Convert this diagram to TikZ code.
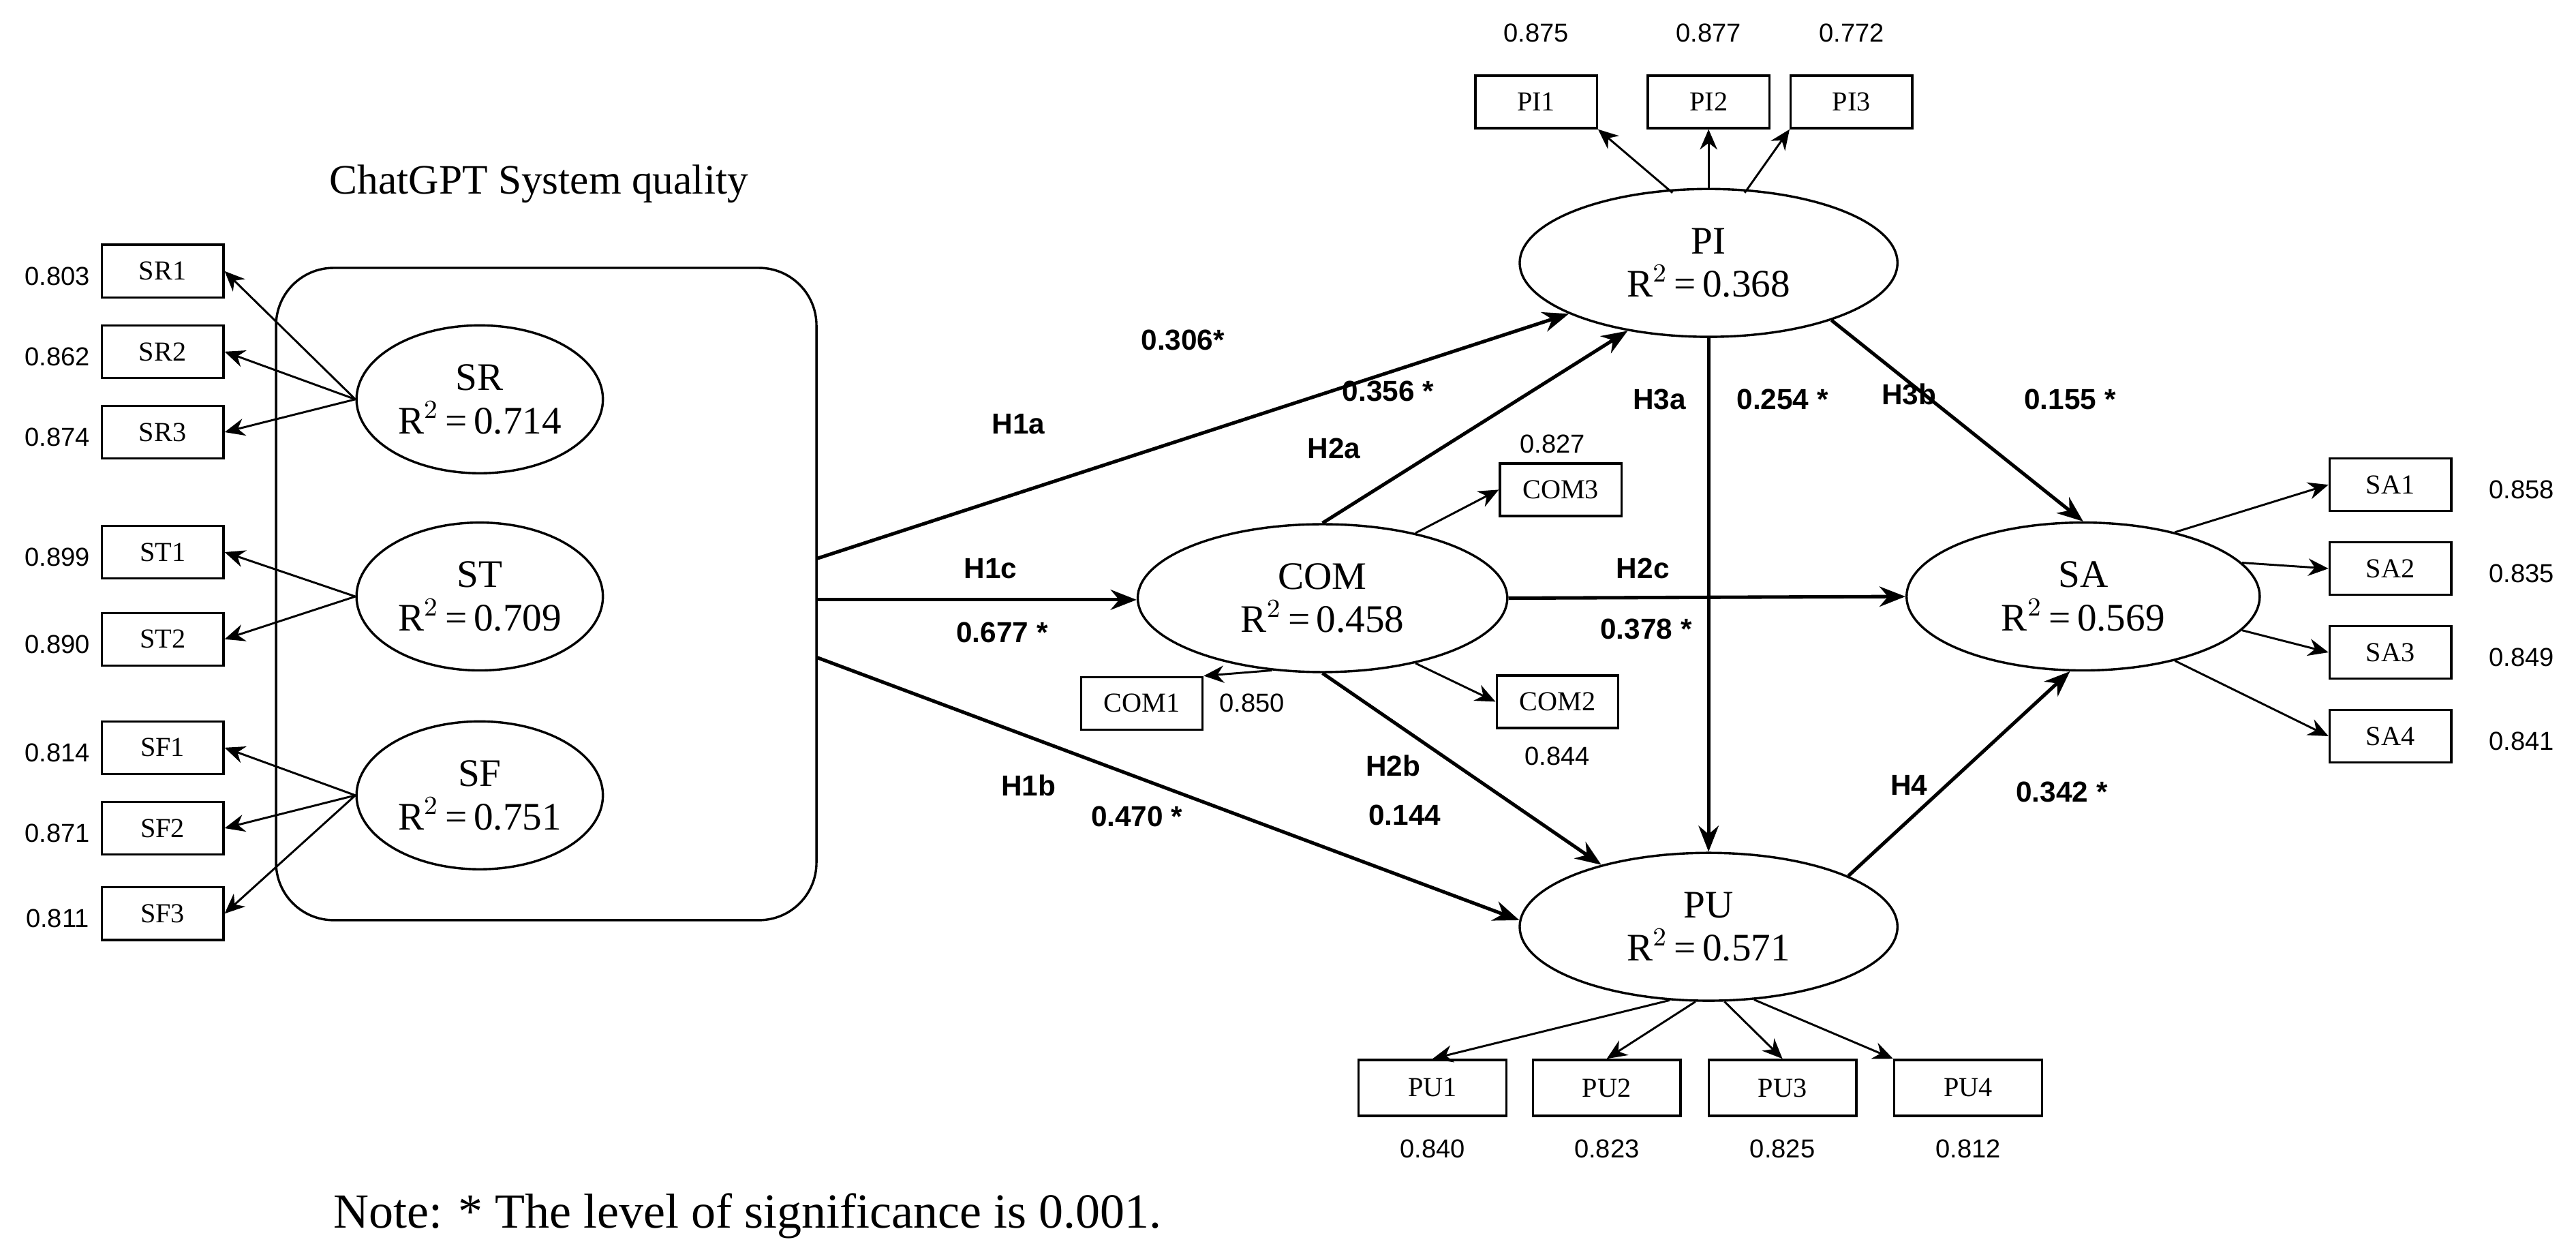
\documentclass[tikz,border=0pt]{standalone}
\usepackage{fontspec}
\setmainfont{Liberation Serif}
\newfontfamily\sansf{Liberation Sans}
\usetikzlibrary{shapes.geometric,arrows.meta}
\begin{document}
\begin{tikzpicture}[x=0.02cm,y=-0.02cm,
 lv/.style={draw,ellipse,line width=0.8pt,minimum width=224\pgflinewidth,inner sep=0pt,font=\fontsize{13.5}{15}\selectfont,align=center},
 ind/.style={draw,rectangle,line width=0.8pt,minimum width=1.48cm,minimum height=0.64cm,inner sep=1pt,font=\fontsize{9.5}{11}\selectfont},
 ld/.style={font=\sansf\fontsize{9}{10}\selectfont},
 hl/.style={font=\sansf\bfseries\fontsize{10}{12}\selectfont},
 ar/.style={-{Stealth[length=7pt,width=6pt]},line width=0.7pt},
 pa/.style={-{Stealth[length=9pt,width=7pt]},line width=1.2pt}]
\useasboundingbox (0,0) rectangle (1568,766);
\node[font=\fontsize{14.5}{16}\selectfont] (title) at (328,112) {ChatGPT System quality};
\node[draw,rounded corners=0.7cm,line width=0.8pt,minimum width=6.58cm,minimum height=7.94cm] (sys) at (332.5,361.5) {};
\foreach \n/\y/\r in {SR/243/0.714,ST/363/0.709,SF/484/0.751}
  \node[lv,minimum width=3cm,minimum height=1.8cm] (\n) at (292,\y) {\n\\R$^2$\,=\,\r};
\foreach \n/\y/\v/\p in {SR1/165/0.803/SR,SR2/214/0.862/SR,SR3/263/0.874/SR,ST1/336/0.899/ST,ST2/389/0.890/ST,SF1/455/0.814/SF,SF2/504/0.871/SF,SF3/556/0.811/SF}{
  \node[ind] (\n) at (99,\y) {\n};
  \node[ld] (l\n) at (35,\y+3) {\v};
  \draw[ar] (\p.west) ++(0,0) -- (\n.east);}
\node[lv,minimum width=4.6cm,minimum height=1.8cm] (PI) at (1040,160) {PI\\R$^2$\,=\,0.368};
\node[lv,minimum width=4.5cm,minimum height=1.8cm] (COM) at (805,364) {COM\\R$^2$\,=\,0.458};
\node[lv,minimum width=4.3cm,minimum height=1.8cm] (SA) at (1268,363) {SA\\R$^2$\,=\,0.569};
\node[lv,minimum width=4.6cm,minimum height=1.8cm] (PU) at (1040,564) {PU\\R$^2$\,=\,0.571};
\foreach \n/\x/\v in {PI1/935/0.875,PI2/1040/0.877,PI3/1127/0.772}{
  \node[ind] (\n) at (\x,62) {\n};
  \node[ld] (l\n) at (\x,20) {\v};}
\draw[ar] (PI.north) ++(-22,3) -- (PI1.south east);
\draw[ar] (PI.north) -- (PI2.south);
\draw[ar] (PI.north) ++(22,3) -- (PI3.south west);
\node[ind] (COM3) at (950,298) {COM3}; \node[ld] (lCOM3) at (945,270) {0.827};
\node[ind] (COM1) at (695,428) {COM1}; \node[ld] (lCOM1) at (762,428) {0.850};
\node[ind] (COM2) at (948,427) {COM2}; \node[ld] (lCOM2) at (948,460) {0.844};
\draw[ar] (COM.35) -- (COM3.west);
\draw[ar] (COM.-35) -- (COM2.west);
\draw[ar] (COM.-125) -- (COM1.north east);
\foreach \n/\y/\v/\a in {SA1/295/0.858/35,SA2/346/0.835/12,SA3/397/0.849/-12,SA4/448/0.841/-35}{
  \node[ind] (\n) at (1455,\y) {\n};
  \node[ld] (l\n) at (1535,\y+3) {\v};
  \draw[ar] (SA.\a) -- (\n.west);}
\foreach \n/\x/\v/\a in {PU1/872/0.840/-115,PU2/978/0.823/-98,PU3/1085/0.825/-78,PU4/1198/0.812/-60}{
  \node[ind,minimum width=1.8cm,minimum height=0.68cm] (\n) at (\x,662) {\n};
  \node[ld] (l\n) at (\x,699) {\v};}
\draw[ar] (PU.-118) -- (PU1.north);
\draw[ar] (PU.-100) -- (PU2.north);
\draw[ar] (PU.-78) -- (PU3.north);
\draw[ar] (PU.-58) -- (PU4.north west);
\coordinate (s1) at (497,340);
\coordinate (s2) at (497,365);
\coordinate (s3) at (497,400);
\draw[pa] (s1) -- (PI.200);
\draw[pa] (s2) -- (COM.west |- s2);
\draw[pa] (s3) -- (PU.178);
\draw[pa] (COM.90) -- (PI.220);
\draw[pa] (COM.east) -- (SA.west);
\draw[pa] (COM.-90) -- (PU.150);
\draw[pa] (PI.south) -- (PU.north);
\draw[pa] (PI.-25) -- (SA.north);
\draw[pa] (PU.20) -- (SA.-100);
\node[hl] (h1a) at (620,258) {H1a}; \node[hl] (v1a) at (720,207) {0.306*};
\node[hl] (h1c) at (603,346) {H1c}; \node[hl] (v1c) at (610,385) {0.677 *};
\node[hl] (h1b) at (626,478) {H1b}; \node[hl] (v1b) at (692,497) {0.470 *};
\node[hl] (h2a) at (812,273) {H2a}; \node[hl] (v2a) at (845,238) {0.356 *};
\node[hl] (h2c) at (1000,346) {H2c}; \node[hl] (v2c) at (1002,383) {0.378 *};
\node[hl] (h2b) at (848,466) {H2b}; \node[hl] (v2b) at (855,496) {0.144};
\node[hl] (h3a) at (1010,243) {H3a}; \node[hl] (v3a) at (1085,243) {0.254 *};
\node[hl] (h3b) at (1162,240) {H3b}; \node[hl] (v3b) at (1260,243) {0.155 *};
\node[hl] (h4) at (1162,478) {H4}; \node[hl] (v4) at (1255,482) {0.342 *};
\node[font=\fontsize{17}{19}\selectfont] (note) at (455,740) {Note: * The level of significance is 0.001.};
\end{tikzpicture}
\end{document}
